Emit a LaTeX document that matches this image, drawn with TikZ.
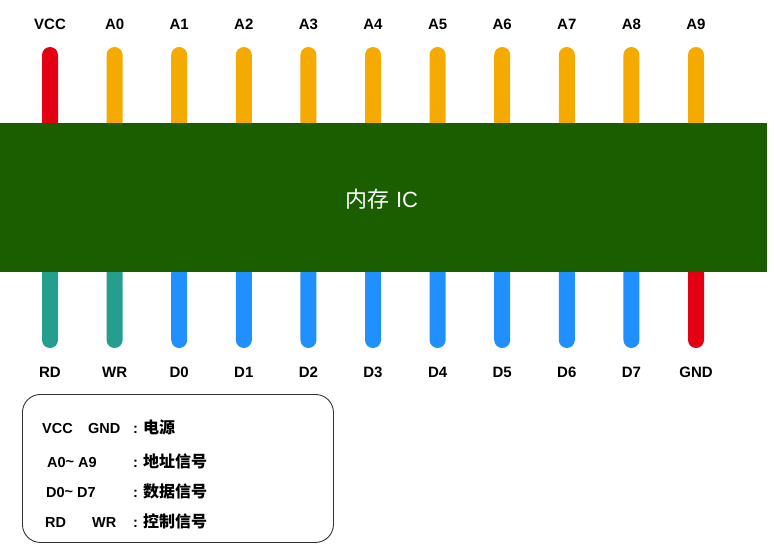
\documentclass[tikz,border=0pt]{standalone}
\usepackage{fontspec}
\setmainfont{Liberation Sans}
\newfontfamily\cjk{Noto Sans CJK SC}
\definecolor{icgreen}{RGB}{26,94,0}
\definecolor{pinred}{RGB}{226,0,18}
\definecolor{pinorange}{RGB}{245,170,0}
\definecolor{pinteal}{RGB}{38,158,142}
\definecolor{pinblue}{RGB}{32,144,255}
\begin{document}
\begin{tikzpicture}[x=1pt,y=-1pt,
  pinbox/.style={rectangle,rounded corners=8pt,minimum width=16pt,minimum height=83pt,inner sep=0pt,draw=none},
  pinlabel/.style={font=\fontsize{15}{17}\selectfont\bfseries,inner sep=0pt,anchor=base},
  legtext/.style={font=\fontsize{14.5}{16}\selectfont\bfseries,inner sep=0pt,anchor=base west},
  legcjk/.style={font=\fontsize{16}{18}\selectfont\cjk\bfseries,inner sep=0pt,anchor=base west}]
\useasboundingbox (0,0) rectangle (774,551);
\fill[white] (0,0) rectangle (774,551);
% top pins
\foreach \i/\c/\t in {0/pinred/VCC,1/pinorange/A0,2/pinorange/A1,3/pinorange/A2,4/pinorange/A3,5/pinorange/A4,6/pinorange/A5,7/pinorange/A6,8/pinorange/A7,9/pinorange/A8,10/pinorange/A9}{
  \node[pinbox,fill=\c] (tp\i) at ({50+64.6*\i},88.5) {};
  \node[pinlabel] (tl\i) at ({50+64.6*\i},29.5) {\t};
}
% bottom pins
\foreach \i/\c/\t in {0/pinteal/RD,1/pinteal/WR,2/pinblue/D0,3/pinblue/D1,4/pinblue/D2,5/pinblue/D3,6/pinblue/D4,7/pinblue/D5,8/pinblue/D6,9/pinblue/D7,10/pinred/GND}{
  \node[pinbox,fill=\c] (bp\i) at ({50+64.6*\i},306.5) {};
  \node[pinlabel] (bl\i) at ({50+64.6*\i},377.5) {\t};
}
% IC body
\node[rectangle,fill=icgreen,draw=none,minimum width=767pt,minimum height=149pt,inner sep=0pt,anchor=north west] (ic) at (0,123) {};
\node[text=white,inner sep=0pt,font=\fontsize{22}{24}\selectfont] (iclabel) at (382,199) {{\cjk 内存} IC};
% legend
\node[draw=black!80,line width=0.9pt,rounded corners=18pt,minimum width=311pt,minimum height=148pt,inner sep=0pt,anchor=north west] (legend) at (22,394) {};
\node[legtext] (l1a) at (42,433) {VCC};
\node[legtext] (l1b) at (88,433) {GND};
\node[legtext] (l1c) at (133,433) {:};
\node[legcjk] (l1d) at (143,433) {电源};
\node[legtext] (l2a) at (47,467) {A0\raisebox{1pt}{\textasciitilde} A9};
\node[legtext] (l2c) at (133,467) {:};
\node[legcjk] (l2d) at (143,467) {地址信号};
\node[legtext] (l3a) at (46,497) {D0\raisebox{1pt}{\textasciitilde} D7};
\node[legtext] (l3c) at (133,497) {:};
\node[legcjk] (l3d) at (143,497) {数据信号};
\node[legtext] (l4a) at (45,527) {RD};
\node[legtext] (l4b) at (92,527) {WR};
\node[legtext] (l4c) at (133,527) {:};
\node[legcjk] (l4d) at (143,527) {控制信号};
\end{tikzpicture}
\end{document}
